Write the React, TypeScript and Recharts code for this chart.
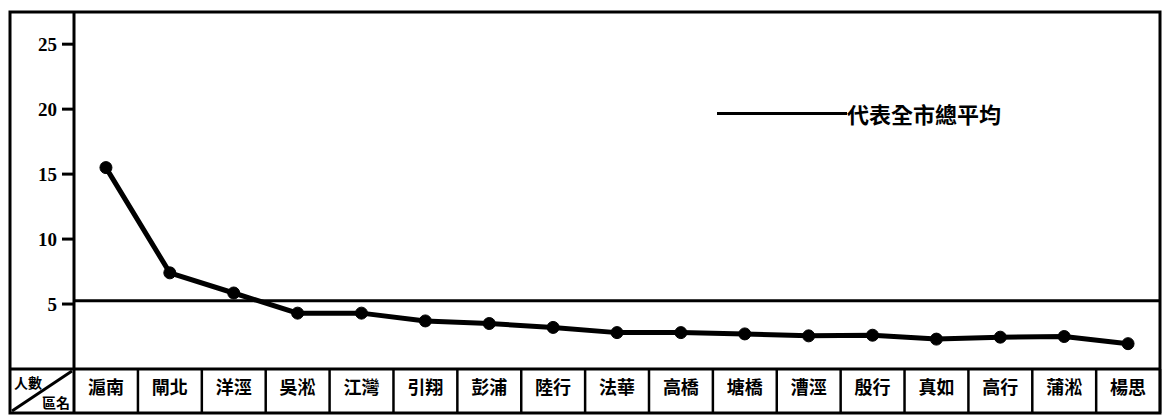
import { LineChart, Line, XAxis, YAxis, ReferenceLine } from 'recharts'

// 區名 (district names) in the order they appear on the chart
const DISTRICTS = [
  '滬南', '閘北', '洋涇', '吳淞', '江灣', '引翔', '彭浦', '陸行', '法華',
  '高橋', '塘橋', '漕涇', '殷行', '真如', '高行', '蒲淞', '楊思',
]
// 人數 per district
const COUNTS = [
  15.5, 7.4, 5.85, 4.3, 4.3, 3.7, 3.5, 3.2, 2.8,
  2.8, 2.7, 2.55, 2.6, 2.3, 2.45, 2.5, 1.95,
]
const CITY_AVERAGE = 5.25
const Y_TICKS = [5, 10, 15, 20, 25]
const LEGEND_TEXT = '代表全市總平均'
const CORNER_TOP = '人數'
const CORNER_BOTTOM = '區名'

const data = DISTRICTS.map((name, i) => ({ name, count: COUNTS[i] }))

const CJK = '"Noto Sans CJK TC", "Noto Sans CJK SC", sans-serif'

// eslint-disable-next-line @typescript-eslint/no-explicit-any
const DistrictTick = (props: any) => {
  const { x, y, payload } = props
  return (
    <g>
      <text
        x={x}
        y={y + 25}
        textAnchor="middle"
        fontSize={18}
        fontWeight={700}
        fontFamily={CJK}
        fill="#000"
      >
        {payload.value}
      </text>
      <line x1={x + 32} x2={x + 32} y1={y} y2={y + 44} stroke="#000" strokeWidth={2.5} />
    </g>
  )
}

export default function App() {
  return (
    <div style={{ position: 'relative', width: 1165, height: 417, background: '#fff' }}>
      <style>{'body{margin:0;background:#fff}'}</style>
      <LineChart
        width={1165}
        height={417}
        data={data}
        margin={{ top: 13, right: 5, left: 0, bottom: 4 }}
      >
        <XAxis
          dataKey="name"
          scale="band"
          height={44}
          tickLine={false}
          tickSize={0}
          tickMargin={0}
          interval={0}
          axisLine={{ stroke: '#000', strokeWidth: 3 }}
          tick={<DistrictTick />}
        />
        <YAxis
          width={74}
          domain={[0, 27.4]}
          ticks={Y_TICKS}
          tickSize={12}
          tickMargin={5}
          axisLine={{ stroke: '#000', strokeWidth: 3 }}
          tickLine={{ stroke: '#000', strokeWidth: 3 }}
          tick={{
            fill: '#000',
            fontSize: 19,
            fontWeight: 700,
            fontFamily: '"Liberation Serif", serif',
          }}
        />
        <ReferenceLine y={CITY_AVERAGE} stroke="#000" strokeWidth={3} />
        <Line
          type="linear"
          dataKey="count"
          stroke="#000"
          strokeWidth={5}
          dot={{ r: 6, fill: '#000', stroke: '#000', strokeWidth: 1 }}
          isAnimationActive={false}
        />
      </LineChart>
      <div
        style={{
          position: 'absolute',
          left: 717,
          top: 97,
          display: 'flex',
          alignItems: 'center',
        }}
      >
        <div style={{ width: 130, height: 3, background: '#000' }} />
        <span style={{ fontFamily: CJK, fontWeight: 700, fontSize: 22, color: '#000' }}>
          {LEGEND_TEXT}
        </span>
      </div>
      <svg
        width={1165}
        height={417}
        style={{ position: 'absolute', left: 0, top: 0, pointerEvents: 'none' }}
      >
        <rect x={10} y={12} width={1150} height={401} fill="none" stroke="#000" strokeWidth={3} />
        <line x1={74} x2={74} y1={369} y2={413} stroke="#000" strokeWidth={3} />
        <line x1={10} x2={74} y1={369} y2={369} stroke="#000" strokeWidth={3} />
        <line x1={12} x2={72} y1={411} y2={371} stroke="#000" strokeWidth={3} />
        <text x={14} y={388} fontSize={14} fontWeight={700} fontFamily={CJK} fill="#000">
          {CORNER_TOP}
        </text>
        <text x={70} y={408} textAnchor="end" fontSize={14} fontWeight={700} fontFamily={CJK} fill="#000">
          {CORNER_BOTTOM}
        </text>
      </svg>
    </div>
  )
}
